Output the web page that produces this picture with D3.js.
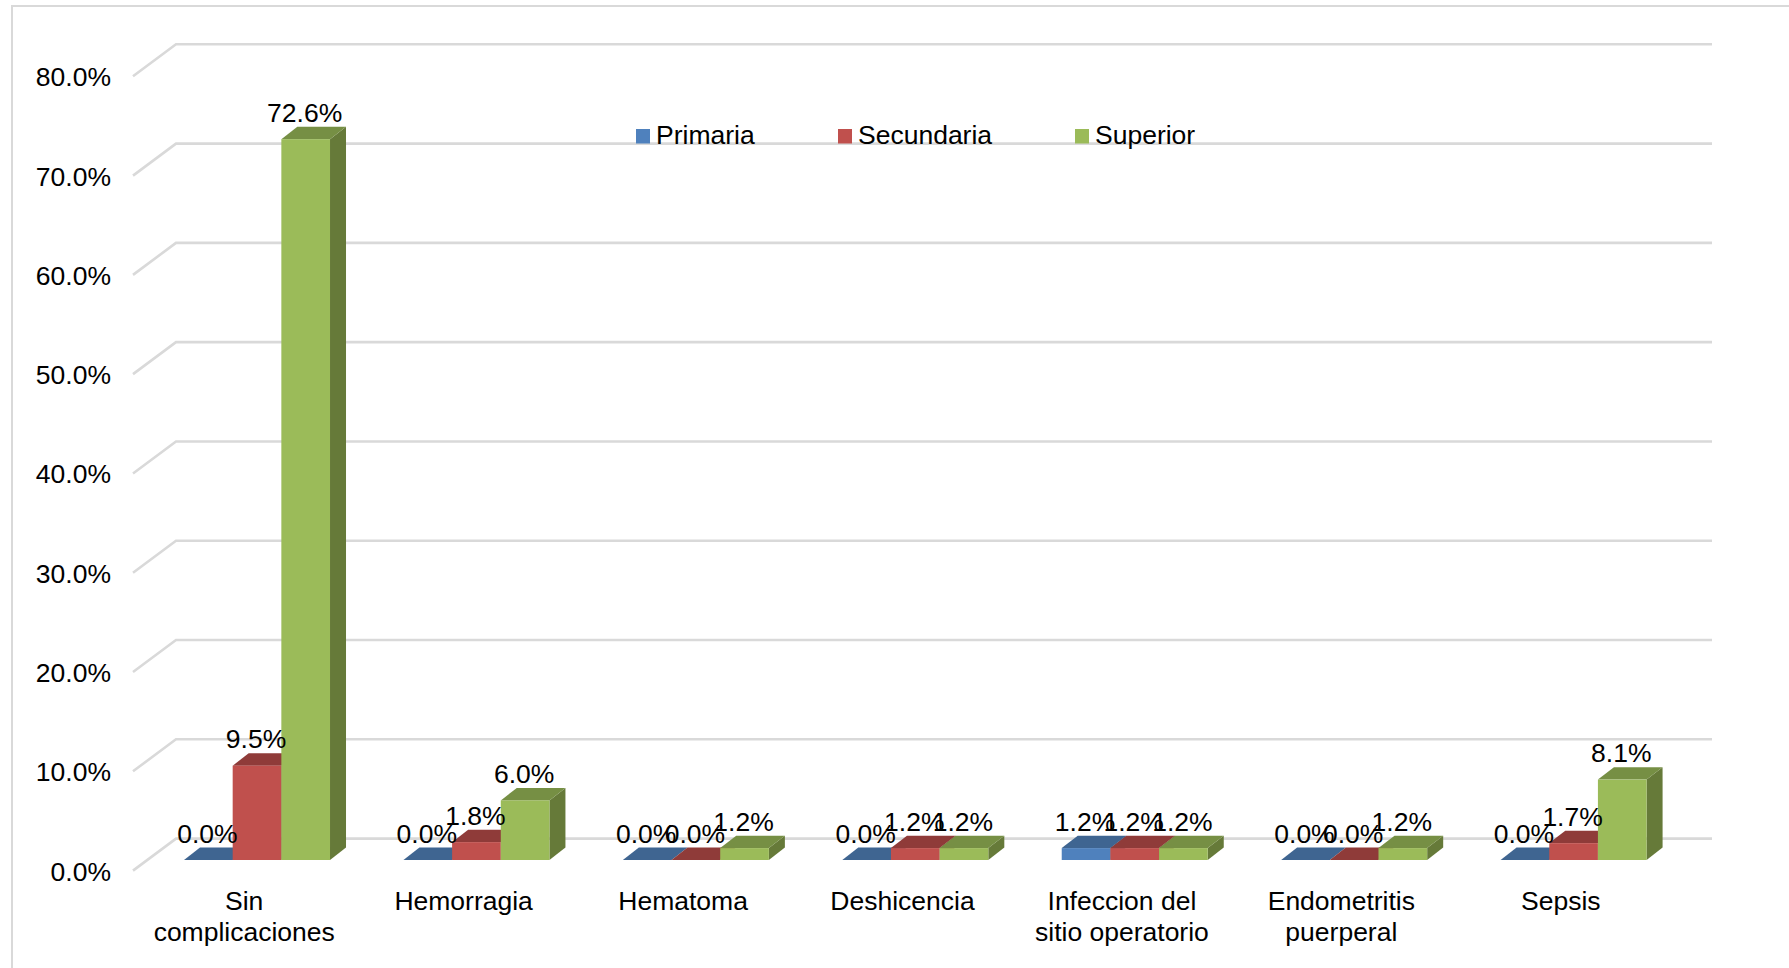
<!DOCTYPE html>
<html lang="es">
<head>
    <meta charset="UTF-8">
    <title>Complicaciones por nivel</title>
    <script src="https://d3js.org/d3.v7.min.js"></script>
    <style>
        html, body { margin: 0; padding: 0; background-color: #fff; }
        svg { display: block; font-family: "Liberation Sans", Arial, sans-serif; }
    </style>
</head>
<body>
    <svg></svg>
    <script>
        // data
        let categories = [["Sin", "complicaciones"], ["Hemorragia"], ["Hematoma"], ["Deshicencia"],
            ["Infeccion del", "sitio operatorio"], ["Endometritis", "puerperal"], ["Sepsis"]];
        let seriesNames = ["Primaria", "Secundaria", "Superior"];
        let primaria = [0, 0, 0, 0, 1.2, 0, 0];
        let secundaria = [9.5, 1.8, 0, 1.2, 1.2, 0, 1.7];
        let superior = [72.6, 6.0, 1.2, 1.2, 1.2, 1.2, 8.1];
        let yTicks = [0, 10, 20, 30, 40, 50, 60, 70, 80];

        let seriesValues = [primaria, secundaria, superior];
        let front = ["#4f81bd", "#c0504d", "#9bbb59"];
        let topFace = ["#3f6591", "#8f3b39", "#768f44"];
        let sideFace = ["#3a5a82", "#7d3331", "#667a39"];

        let width = 1789, height = 968;
        let fontSize = 26.5;
        let svg = d3.select("svg").attr("width", width).attr("height", height);

        let depthX = 43, depthY = 32;       // wall offset of the 3D floor
        let barInsetX = 14.3, barInsetY = 10.6;  // bar front relative to chart front
        let barDepthX = 16, barDepthY = 12.4;

        let x = d3.scaleBand().domain(d3.range(categories.length)).range([133, 1669]);
        let y = d3.scaleLinear().domain([0, 80]).range([870.6, 76.3]);
        let xSeries = d3.scaleBand().domain(d3.range(seriesNames.length)).range([0, 146]);
        let groupLeft = i => x(i) + barInsetX + (x.bandwidth() - xSeries.range()[1]) / 2;
        let barTop = v => y(v) - barInsetY;
        let barBase = y(0) - barInsetY;

        // outer frame
        svg.append("path")
            .attr("d", "M12,968V6H1789")
            .attr("fill", "none").attr("stroke", "#d9d9d9").attr("stroke-width", 2);

        // gridlines, with the slanted side wall part
        svg.append("g").selectAll("path")
            .data(yTicks)
            .enter().append("path")
            .attr("d", d => d3.line()([[x.range()[0], y(d)], [x.range()[0] + depthX, y(d) - depthY], [x.range()[1] + depthX, y(d) - depthY]]))
            .attr("fill", "none").attr("stroke", "#d9d9d9").attr("stroke-width", 2.6);

        // y axis labels
        let yAxis = svg.append("g")
            .attr("transform", "translate(133,1)")
            .call(d3.axisLeft(y).tickValues(yTicks).tickSize(0).tickPadding(22).tickFormat(d => d.toFixed(1) + "%"));
        yAxis.select(".domain").remove();
        yAxis.selectAll("text").attr("font-size", fontSize).attr("font-family", "Liberation Sans").attr("fill", "#000");

        // bars, drawn series by series so each one covers the depth of the previous
        let bars = [];
        categories.forEach((c, i) => seriesValues.forEach((vals, s) => bars.push({ i: i, s: s, v: vals[i] })));

        let barG = svg.append("g").selectAll("g")
            .data(bars)
            .enter().append("g");

        let poly = pts => d3.line()(pts) + "Z";
        let barX = d => groupLeft(d.i) + xSeries(d.s);
        let bw = xSeries.bandwidth();

        barG.append("path")   // side
            .attr("d", d => poly([[barX(d) + bw, barBase], [barX(d) + bw + barDepthX, barBase - barDepthY],
                [barX(d) + bw + barDepthX, barTop(d.v) - barDepthY], [barX(d) + bw, barTop(d.v)]]))
            .attr("fill", d => sideFace[d.s]);
        barG.append("path")   // top
            .attr("d", d => poly([[barX(d), barTop(d.v)], [barX(d) + barDepthX, barTop(d.v) - barDepthY],
                [barX(d) + bw + barDepthX, barTop(d.v) - barDepthY], [barX(d) + bw, barTop(d.v)]]))
            .attr("fill", d => topFace[d.s]);
        barG.append("rect")   // front
            .attr("x", barX).attr("y", d => barTop(d.v))
            .attr("width", bw).attr("height", d => barBase - barTop(d.v))
            .attr("fill", d => front[d.s]);

        // data labels
        svg.append("g").selectAll("text")
            .data(bars)
            .enter().append("text")
            .attr("x", d => barX(d) + bw / 2 - 1)
            .attr("y", d => barTop(d.v) - barDepthY - 5)
            .attr("text-anchor", "middle").attr("font-size", fontSize).attr("fill", "#000")
            .text(d => d.v.toFixed(1) + "%");

        // category labels
        let catText = svg.append("g").selectAll("text")
            .data(categories)
            .enter().append("text")
            .attr("text-anchor", "middle").attr("font-size", fontSize).attr("fill", "#000");
        catText.selectAll("tspan")
            .data((d, i) => d.map((line, k) => ({ line: line, k: k, i: i })))
            .enter().append("tspan")
            .attr("x", d => x(d.i) + x.bandwidth() / 2 + 1.5)
            .attr("y", d => 910 + d.k * 31)
            .text(d => d.line);

        // legend
        let legendX = [636, 838, 1075];
        let legend = svg.append("g").selectAll("g")
            .data(seriesNames)
            .enter().append("g")
            .attr("transform", (d, i) => "translate(" + legendX[i] + ",129)");
        legend.append("rect").attr("width", 14).attr("height", 14.5).attr("fill", (d, i) => front[i]);
        legend.append("text").attr("x", 20).attr("y", 14.5)
            .attr("font-size", fontSize).attr("fill", "#000").text(d => d);
    </script>
</body>
</html>
